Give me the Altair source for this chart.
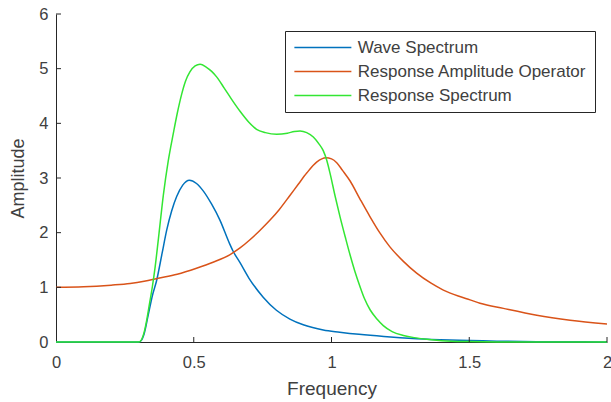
import altair as alt
import pandas as pd

# Wave Spectrum
wave_f = [0, 0.30, 0.31, 0.32, 0.335, 0.35, 0.365, 0.385, 0.402, 0.42, 0.438, 0.46, 0.484,
          0.51, 0.535, 0.565, 0.595, 0.63, 0.643, 0.668, 0.70, 0.752, 0.80, 0.849, 0.90,
          0.97, 1.03, 1.10, 1.19, 1.31, 1.43, 1.6, 1.8, 2.0]
wave_a = [0, 0, 0.03, 0.15, 0.5, 0.85, 1.12, 1.62, 2.05, 2.4, 2.66, 2.87, 2.96,
          2.9, 2.76, 2.52, 2.23, 1.80, 1.66, 1.45, 1.17, 0.82, 0.58, 0.42, 0.31,
          0.22, 0.18, 0.14, 0.10, 0.06, 0.035, 0.015, 0.005, 0.002]

# Response Amplitude Operator
rao_f = [0, 0.1, 0.2, 0.269, 0.32, 0.371, 0.44, 0.51, 0.57, 0.632, 0.668, 0.704, 0.74,
         0.777, 0.81, 0.849, 0.88, 0.91, 0.946, 0.98, 1.0, 1.019, 1.04, 1.067, 1.103,
         1.14, 1.175, 1.212, 1.26, 1.309, 1.36, 1.406, 1.46, 1.503, 1.539, 1.624,
         1.745, 1.866, 2.0]
rao_a = [1.0, 1.01, 1.04, 1.07, 1.11, 1.165, 1.24, 1.35, 1.46, 1.60, 1.72, 1.87, 2.04,
         2.23, 2.42, 2.68, 2.89, 3.09, 3.29, 3.37, 3.35, 3.28, 3.14, 2.95, 2.62,
         2.29, 2.0, 1.74, 1.48, 1.26, 1.08, 0.95, 0.84, 0.77, 0.71, 0.615,
         0.49, 0.40, 0.33]

# Response Spectrum
resp_f = [0, 0.30, 0.31, 0.32, 0.33, 0.34, 0.35, 0.36, 0.372, 0.39, 0.407, 0.426, 0.44, 0.456,
          0.47, 0.486, 0.505, 0.523, 0.545, 0.565, 0.583, 0.61, 0.64, 0.668, 0.70, 0.728,
          0.76, 0.801, 0.84, 0.865, 0.886, 0.91, 0.934, 0.955, 0.970, 0.983, 0.995,
          1.013, 1.031, 1.05, 1.067, 1.085, 1.103, 1.12, 1.14, 1.165, 1.188, 1.22,
          1.261, 1.3, 1.345, 1.4, 1.5, 1.6, 2.0]
resp_a = [0, 0, 0.04, 0.18, 0.42, 0.72, 1.02, 1.38, 1.9, 2.7, 3.3, 3.82, 4.18, 4.53,
          4.77, 4.94, 5.05, 5.08, 5.03, 4.95, 4.85, 4.65, 4.42, 4.22, 4.02, 3.89,
          3.83, 3.80, 3.82, 3.85, 3.86, 3.83, 3.75, 3.62, 3.5, 3.32, 3.08,
          2.67, 2.29, 1.92, 1.60, 1.29, 1.02, 0.79, 0.59, 0.42, 0.30, 0.19,
          0.12, 0.08, 0.05, 0.025, 0.008, 0.002, 0]

series_names = ["Wave Spectrum", "Response Amplitude Operator", "Response Spectrum"]
series_colors = ["#0072BD", "#D95319", "#33E633"]

x_ticks = [0, 0.5, 1, 1.5, 2]
y_ticks = [0, 1, 2, 3, 4, 5, 6]

rows = []
for name, fs, amps in zip(series_names, [wave_f, rao_f, resp_f], [wave_a, rao_a, resp_a]):
    for i, (f, a) in enumerate(zip(fs, amps)):
        rows.append({"Frequency": f, "Amplitude": a, "Series": name, "order": i})
df = pd.DataFrame(rows)

FONT = "Liberation Sans"
AX = "#262626"
TXT = "#404040"

xscale = alt.Scale(domain=[0, 2], nice=False, zero=False)
yscale = alt.Scale(domain=[0, 6], nice=False, zero=False)

# legend line sample: custom path from -r to 7r (r = sqrt(size)/2)
SYM_R = 7.125

lines = alt.Chart(df).mark_line(strokeWidth=1.5, interpolate="monotone").encode(
    x=alt.X("Frequency:Q", scale=xscale,
            axis=alt.Axis(values=x_ticks, format="~g", tickSize=0, labelPadding=12,
                          grid=False, domainColor=AX, labelColor=TXT, labelFontSize=16.5,
                          labelFont=FONT, title="Frequency", titleFont=FONT,
                          titleFontSize=19, titleFontWeight="normal", titleColor=TXT,
                          titleBaseline="middle", titleY=46, labelFlush=False)),
    y=alt.Y("Amplitude:Q", scale=yscale,
            axis=alt.Axis(values=y_ticks, format="~g", tickSize=0, labelPadding=8,
                          grid=False, domainColor=AX, labelColor=TXT, labelFontSize=16.5,
                          labelFont=FONT, title="Amplitude", titleFont=FONT,
                          titleFontSize=18, titleFontWeight="normal", titleColor=TXT,
                          titleBaseline="middle", titleX=-38, titleAngle=-90,
                          labelFlush=False)),
    color=alt.Color("Series:N",
                    scale=alt.Scale(domain=series_names, range=series_colors),
                    sort=series_names,
                    legend=alt.Legend(title=None, orient="none", legendX=229, legendY=17,
                                      symbolType="M-1,0H7", symbolSize=(2 * SYM_R) ** 2,
                                      symbolStrokeWidth=1.5, symbolFillColor="transparent",
                                      labelFont=FONT, labelFontSize=17, labelColor=TXT,
                                      labelOffset=6 * SYM_R + 5, padding=8, rowPadding=6,
                                      strokeColor=AX, fillColor="white",
                                      cornerRadius=0, labelLimit=400)),
    order="order:Q",
)

xt = pd.DataFrame({"Frequency": x_ticks[1:]})
yt = pd.DataFrame({"Amplitude": y_ticks[1:]})

x_tick_marks = alt.Chart(xt).mark_rule(color=AX, strokeWidth=1).encode(
    x=alt.X("Frequency:Q", scale=xscale),
    y=alt.value(328), y2=alt.value(323),
)
y_tick_marks = alt.Chart(yt).mark_rule(color=AX, strokeWidth=1).encode(
    y=alt.Y("Amplitude:Q", scale=yscale),
    x=alt.value(0), x2=alt.value(5),
)

chart = alt.layer(lines, x_tick_marks, y_tick_marks).properties(
    width=551, height=328,
    autosize=alt.AutoSizeParams(type="none"),
    padding={"left": 56, "top": 14, "right": 4, "bottom": 60},
    background="white",
).configure_view(stroke=None)

chart.save("out.html", embed_options={"renderer": "svg", "actions": False})
